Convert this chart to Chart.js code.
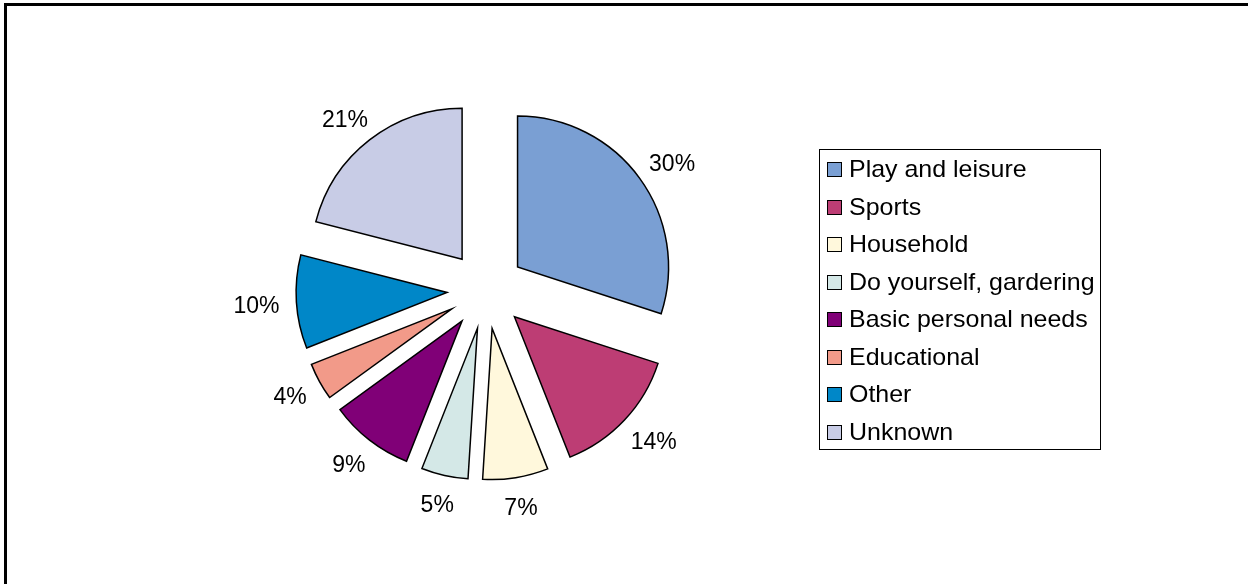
<!DOCTYPE html>
<html>
<head>
<meta charset="utf-8">
<script src="https://cdn.jsdelivr.net/npm/chart.js@4/dist/chart.umd.min.js"></script>
<style>
  html, body { margin:0; padding:0; background:#fff; }
  #wrap { position:relative; width:1248px; height:584px; overflow:hidden; background:#fff; }
  #frame { position:absolute; left:4px; top:3px; width:1300px; height:700px; border-top:3px solid #000; border-left:3px solid #000; box-sizing:border-box; }
  #c { position:absolute; left:0; top:0; }
  #legend { position:absolute; left:819px; top:149px; width:282px; height:301px; border:1px solid #000; box-sizing:border-box; font-family:"Liberation Sans", Arial, sans-serif; font-size:24px; color:#000; }
  .row { position:absolute; left:7px; height:30px; line-height:30px; white-space:nowrap; }
  .sw { position:absolute; left:0; top:8px; width:13px; height:13px; border:1px solid #000; }
  .tx { position:absolute; left:22px; top:0; transform:scaleX(1.04); transform-origin:left center; }
</style>
</head>
<body>
<div id="wrap">
  <div id="frame"></div>
  <canvas id="c" width="1248" height="584"></canvas>
  <div id="legend"></div>
</div>
<script>
const categories = ["Play and leisure", "Sports", "Household", "Do yourself, gardering", "Basic personal needs", "Educational", "Other", "Unknown"];
const shares = [30, 14, 7, 5, 9, 4, 10, 21];
const pctLabels = ["30%", "14%", "7%", "5%", "9%", "4%", "10%", "21%"];
const colors = ["#7A9FD3", "#BD3D74", "#FFF8DC", "#D4E8E7", "#800077", "#F29A89", "#0087C8", "#C8CCE6"];

const EXPLODE = 39;
const LABEL_RX = 203;
const LABEL_RY = 218;
const LABEL_DY = 3;

const explodePlugin = {
  id: 'explode',
  beforeDatasetDraw(chart, args) {
    const ctx = chart.ctx;
    args.meta.data.forEach(el => {
      const mid = (el.startAngle + el.endAngle) / 2;
      ctx.save();
      ctx.translate(Math.cos(mid) * EXPLODE, Math.sin(mid) * EXPLODE);
      el.draw(ctx);
      ctx.restore();
    });
    return false;
  },
  afterDatasetsDraw(chart) {
    const ctx = chart.ctx;
    const meta = chart.getDatasetMeta(0);
    ctx.save();
    ctx.font = '23px "Liberation Sans", Arial, sans-serif';
    ctx.fillStyle = '#000';
    ctx.textAlign = 'center';
    ctx.textBaseline = 'middle';
    meta.data.forEach((el, i) => {
      const mid = (el.startAngle + el.endAngle) / 2;
      const t = pctLabels[i];
      const w = ctx.measureText(t).width;
      const x = el.x + Math.cos(mid) * (LABEL_RX + w / 2 + 4);
      const y = el.y + Math.sin(mid) * LABEL_RY + LABEL_DY;
      ctx.fillText(t, x, y);
    });
    ctx.restore();
  }
};

new Chart(document.getElementById('c'), {
  type: 'pie',
  data: {
    labels: categories,
    datasets: [{
      data: shares,
      backgroundColor: colors,
      borderColor: '#000',
      borderWidth: 1.5,
      borderJoinStyle: 'miter',
      radius: 151
    }]
  },
  options: {
    responsive: false,
    animation: false,
    layout: { padding: { left: 100, right: 376, top: 20, bottom: 24 } },
    plugins: { legend: { display: false }, tooltip: { enabled: false } },
    events: []
  },
  plugins: [explodePlugin]
});

// HTML legend
const lg = document.getElementById('legend');
categories.forEach((name, i) => {
  const r = document.createElement('div');
  r.className = 'row';
  r.style.top = (4 + i * 37.5) + 'px';
  const s = document.createElement('div');
  s.className = 'sw';
  s.style.background = colors[i];
  const t = document.createElement('div');
  t.className = 'tx';
  t.textContent = name;
  r.appendChild(s); r.appendChild(t);
  lg.appendChild(r);
});
</script>
</body>
</html>
